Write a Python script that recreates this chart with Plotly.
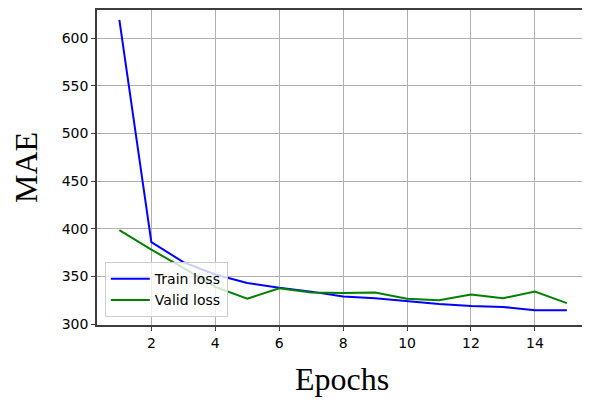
import plotly.graph_objects as go

epochs = list(range(1, 16))
train_loss = [619, 386, 365, 352, 343, 338, 334, 329, 327, 324, 321, 319, 318, 314.5, 314.5]
valid_loss = [398.5, 378, 359, 339, 326.5, 337.5, 333, 332.5, 333, 326.5, 325, 331, 327, 334, 322]

fig = go.Figure()
fig.add_trace(go.Scatter(x=epochs, y=train_loss, mode="lines", name="Train loss",
                         line=dict(color="#0000ff", width=2)))
fig.add_trace(go.Scatter(x=epochs, y=valid_loss, mode="lines", name="Valid loss",
                         line=dict(color="#008000", width=2)))

axis_common = dict(
    showline=True, mirror=True, linecolor="#3d3d3d", linewidth=1.5,
    showgrid=True, gridcolor="#b0b0b0", gridwidth=1,
    ticks="outside", ticklen=4, tickcolor="#3d3d3d",
    tickfont=dict(family="DejaVu Sans", size=14, color="black"),
    zeroline=False, automargin=False,
)

# page body adds ~8px offset, so margins are shifted to compensate
fig.update_layout(
    width=590, height=402,
    margin=dict(l=89, r=11, t=2, b=85),
    plot_bgcolor="white", paper_bgcolor="white",
    xaxis=dict(range=[0.3, 15.63], tickvals=[2, 4, 6, 8, 10, 12, 14],
               title=dict(text="Epochs", font=dict(family="Liberation Serif", size=32, color="black"),
                          standoff=18),
               **axis_common),
    yaxis=dict(range=[299, 629.4], tickvals=[300, 350, 400, 450, 500, 550, 600],
               title=dict(text="MAE", font=dict(family="Liberation Serif", size=32, color="black"),
                          standoff=18),
               **axis_common),
    legend=dict(x=0.016, y=0.025, xanchor="left", yanchor="bottom",
                bgcolor="rgba(255,255,255,0.8)", bordercolor="#cccccc", borderwidth=1,
                font=dict(family="DejaVu Sans", size=14, color="black"),
                tracegroupgap=0, itemwidth=39),
    showlegend=True,
)

fig.write_html("out.html")
